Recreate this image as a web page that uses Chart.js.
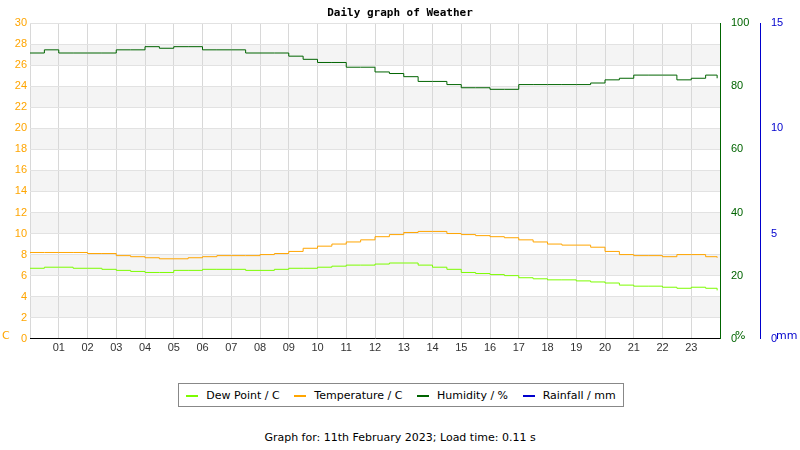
<!DOCTYPE html>
<html><head><meta charset="utf-8">
<script src="https://cdn.jsdelivr.net/npm/chart.js@4"></script>
<style>
body{margin:0;background:#fff;font-family:"DejaVu Sans",sans-serif;}
#wrap{position:relative;width:800px;height:450px;}
#legend{position:absolute;left:178px;top:383px;width:444px;height:22px;border:1px solid #888;font-size:11px;display:flex;align-items:center;justify-content:space-around;color:#000;}
#legend span i{display:inline-block;width:12px;height:2px;margin-right:8px;vertical-align:middle;}
#foot{position:absolute;left:0;width:800px;top:431px;text-align:center;font-size:11px;}
</style></head>
<body><div id="wrap">
<canvas id="c" width="800" height="358" style="width:800px;height:358px"></canvas>
<div id="legend"><span><i style="background:#7cfc00"></i>Dew Point / C</span><span><i style="background:#ffa500"></i>Temperature / C</span><span><i style="background:#006400"></i>Humidity / %</span><span><i style="background:#0000cd"></i>Rainfall / mm</span></div>
<div id="foot">Graph for: 11th February 2023; Load time: 0.11 s</div>
</div>
<script>
// hour of day for each reading
const hours = [0,0.5,1,1.5,2,2.5,3,3.5,4,4.5,5,5.5,6,6.5,7,7.5,8,8.5,9,9.5,10,10.5,11,11.5,12,12.5,13,13.5,14,14.5,15,15.5,16,16.5,17,17.5,18,18.5,19,19.5,20,20.5,21,21.5,22,22.5,23,23.5,23.9];
const temperature = [8.2,8.2,8.2,8.2,8.1,8.1,7.9,7.8,7.7,7.6,7.6,7.7,7.8,7.9,7.9,7.9,8.0,8.1,8.3,8.6,8.8,9.0,9.2,9.4,9.7,9.9,10.1,10.2,10.2,10.0,9.9,9.8,9.7,9.6,9.4,9.2,9.0,8.9,8.9,8.7,8.3,8.0,7.9,7.9,7.8,8.0,8.0,7.8,7.7];
const dewPoint = [6.7,6.8,6.8,6.7,6.7,6.6,6.5,6.4,6.3,6.3,6.5,6.5,6.6,6.6,6.6,6.5,6.5,6.6,6.7,6.7,6.8,6.9,7.0,7.0,7.1,7.2,7.2,7.0,6.8,6.6,6.3,6.2,6.1,6.0,5.8,5.7,5.6,5.6,5.5,5.4,5.3,5.1,5.0,5.0,4.9,4.8,4.9,4.8,4.6];
const humidity = [90.5,91.5,90.5,90.5,90.5,90.5,91.5,91.5,92.5,92,92.5,92.5,91.5,91.5,91.5,90.5,90.5,90.5,89.5,88.5,87.5,87.5,86,86,84.5,84,83,81.5,81.5,80.5,79.5,79.5,79,79,80.5,80.5,80.5,80.5,80.5,81,82,82.5,83.5,83.5,83.5,82,82.5,83.5,82.5];
const rainfall = [];
const leftTicks = [0,30,2], humTicks = [0,100,20], rainTicks = [0,15,5];

const pts = arr => arr.map((v, i) => ({x: hours[i], y: v}));
const fixW = w => s => { s.width = w; };

const bands = {
  id: 'bands',
  beforeDraw(ch) {
    const {ctx, chartArea: a, scales: {y}} = ch;
    ctx.save();
    ctx.fillStyle = '#f4f4f4';
    for (let v = 2; v < 30; v += 4) {
      const t = y.getPixelForValue(v + 2), b = y.getPixelForValue(v);
      ctx.fillRect(a.left, t, a.right - a.left, b - t);
    }
    ctx.restore();
  },
  afterDraw(ch) {
    const {ctx, chartArea: a} = ch;
    ctx.save();
    ctx.font = 'bold 11px "DejaVu Sans Mono", monospace';
    ctx.textAlign = 'center';
    ctx.fillStyle = '#000';
    ctx.fillText('Daily graph of Weather', 400, 16);
    ctx.font = '11px "DejaVu Sans", sans-serif';
    ctx.textAlign = 'left';
    ctx.fillStyle = '#ffa500'; ctx.fillText('C', 2, a.bottom);
    ctx.fillStyle = '#006400'; ctx.fillText('%', 735, a.bottom);
    ctx.fillStyle = '#0000cd'; ctx.fillText('mm', 776, a.bottom);
    ctx.restore();
  }
};

const line = (label, data, color, axis) => ({
  label, data: pts(data), borderColor: color, borderWidth: 1, pointRadius: 0,
  stepped: true, yAxisID: axis, fill: false
});

new Chart(document.getElementById('c'), {
  type: 'line',
  data: {datasets: [
    line('Dew Point / C', dewPoint, '#7cfc00', 'y'),
    line('Temperature / C', temperature, '#ffa500', 'y'),
    line('Humidity / %', humidity, '#006400', 'y1'),
    line('Rainfall / mm', rainfall, '#0000cd', 'y2')
  ]},
  plugins: [bands],
  options: {
    responsive: false, animation: false,
    layout: {padding: {top: 23, left: 0, right: 0}},
    plugins: {legend: {display: false}, tooltip: {enabled: false}},
    scales: {
      x: {type: 'linear', min: 0, max: 24,
        ticks: {stepSize: 1, color: '#333', font: {size: 11}, maxRotation: 0,
          callback: v => (v > 0 && v < 24) ? String(v).padStart(2, '0') : ''},
        grid: {color: '#d8d8d8', drawTicks: false}, border: {color: '#000'}},
      y: {position: 'left', min: leftTicks[0], max: leftTicks[1], afterFit: fixW(30),
        ticks: {stepSize: leftTicks[2], color: '#ffa500', font: {size: 11}},
        grid: {color: '#e2e2e2', drawTicks: false}, border: {display: false}},
      y1: {position: 'right', min: humTicks[0], max: humTicks[1], afterFit: fixW(40),
        ticks: {stepSize: humTicks[2], color: '#006400', font: {size: 11}},
        grid: {display: false}, border: {color: '#006400'}},
      y2: {position: 'right', min: rainTicks[0], max: rainTicks[1], afterFit: fixW(40),
        ticks: {stepSize: rainTicks[2], color: '#0000cd', font: {size: 11}},
        grid: {display: false}, border: {color: '#0000cd'}}
    }
  }
});
</script></body></html>
